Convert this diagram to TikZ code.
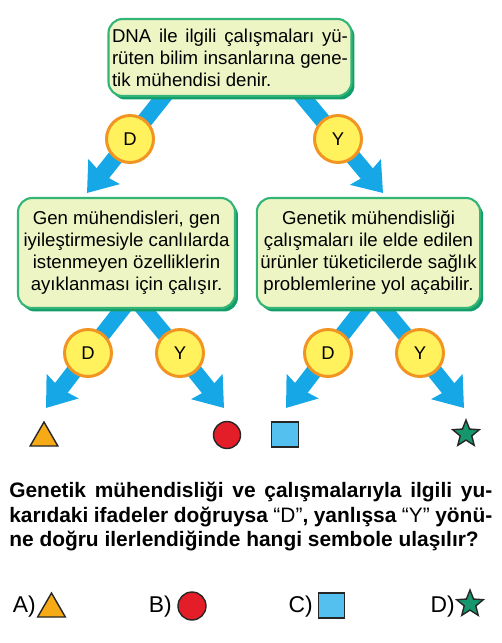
\documentclass[tikz,border=0pt]{standalone}
\usepackage{fontspec}
\setmainfont{Liberation Sans}
\usetikzlibrary{arrows.meta,positioning,calc,shapes.geometric,shadows,backgrounds}
\definecolor{arrblue}{RGB}{22,168,230}
\definecolor{crcfill}{RGB}{255,242,92}
\definecolor{crcdraw}{RGB}{242,148,34}
\definecolor{boxfill}{RGB}{237,245,196}
\definecolor{boxdraw}{RGB}{52,180,118}
\definecolor{boxshd}{RGB}{18,158,108}
\definecolor{triorg}{RGB}{246,170,22}
\definecolor{dotred}{RGB}{228,30,40}
\definecolor{sqblue}{RGB}{84,192,240}
\definecolor{stargrn}{RGB}{22,150,108}
\newcommand{\fullline}[1]{\makebox[9.66cm][s]{#1}}
\tikzset{
  msgblk/.style={draw=boxdraw,line width=1.2pt,fill=boxfill,rounded corners=8pt,inner sep=2pt,
    drop shadow={shadow xshift=0.06cm,shadow yshift=-0.07cm,fill=boxshd,opacity=1},
    font=\fontsize{10.6}{12.5}\selectfont},
  dycirc/.style={circle,draw=crcdraw,line width=1.7pt,fill=crcfill,minimum size=0.94cm,inner sep=0pt,
    font=\fontsize{10.5}{12}\selectfont},
  arr/.style={arrblue,line width=0.32cm,-{Stealth[width=0.78cm,length=0.54cm,inset=0.06cm]}},
  symtri/.style={regular polygon,regular polygon sides=3,draw=black!85,line width=0.8pt,fill=triorg,minimum size=0.64cm,inner sep=0pt},
  symdot/.style={circle,draw=black!85,line width=0.8pt,fill=dotred,minimum size=0.54cm,inner sep=0pt},
  symsq/.style={rectangle,draw=black!85,line width=0.8pt,fill=sqblue,minimum width=0.53cm,minimum height=0.5cm,inner sep=0pt},
  symstar/.style={star,star points=5,star point ratio=2.3,draw=black!85,line width=0.8pt,fill=stargrn,minimum size=0.56cm,inner sep=0pt},
  anslbl/.style={font=\fontsize{13}{15}\selectfont,inner sep=0pt}
}
\begin{document}
\begin{tikzpicture}[x=0.02cm,y=-0.02cm]
  \useasboundingbox (0,0) rectangle (501,643);

  % statement boxes
  \node[msgblk, minimum width=4.8cm, minimum height=1.54cm, text width=4.72cm, align=justify] (q0) at (230,57.5)
    {\hyphenpenalty=10000 DNA ile ilgili çalışmaları yü-\linebreak rüten bilim insanlarına gene-\linebreak tik mühendisi denir.};
  \node[msgblk, minimum width=4.34cm, minimum height=2.2cm, align=center] (q1) at (126.5,253)
    {Gen mühendisleri, gen\\iyileştirmesiyle canlılarda\\istenmeyen özelliklerin\\ayıklanması için çalışır.};
  \node[msgblk, minimum width=4.34cm, minimum height=2.2cm, align=center] (q2) at (368.5,253)
    {Genetik mühendisliği\\çalışmaları ile elde edilen\\ürünler tüketicilerde sağlık\\problemlerine yol açabilir.};

  % D / Y circles
  \node[dycirc] (d0) at (130,139) {D};
  \node[dycirc] (y0) at (338,139) {Y};
  \node[dycirc] (d1) at (88,353) {D};
  \node[dycirc] (y1) at (180,353) {Y};
  \node[dycirc] (d2) at (328,353) {D};
  \node[dycirc] (y2) at (420,353) {Y};

  % end symbols
  \node[symtri] (s1) at (44,438) {};
  \node[symdot] (s2) at (227,435) {};
  \node[symsq] (s3) at (285,434.5) {};
  \node[symstar] (s4) at (466,434) {};

  % arrow ends
  \coordinate (a0) at (173,85);
  \coordinate (b0) at (293,85);
  \coordinate (a1) at (125.5,305);
  \coordinate (b1) at (140.6,305);
  \coordinate (a2) at (365.5,305);
  \coordinate (b2) at (380.6,305);
  \coordinate (ta0) at (87,193);
  \coordinate (tb0) at (383,193);
  \coordinate (ta1) at (46,408);
  \coordinate (tb1) at (224,408);
  \coordinate (ta2) at (286,408);
  \coordinate (tb2) at (464,408);

  \begin{scope}[on background layer]
    \draw[arr] (a0) -- (d0.center) -- (ta0);
    \draw[arr] (b0) -- (y0.center) -- (tb0);
    \draw[arr] (a1) -- (d1.center) -- (ta1);
    \draw[arr] (b1) -- (y1.center) -- (tb1);
    \draw[arr] (a2) -- (d2.center) -- (ta2);
    \draw[arr] (b2) -- (y2.center) -- (tb2);
  \end{scope}

  % question
  \node[anchor=north west, inner sep=0pt, align=left,
    font=\bfseries\fontsize{11.9}{13.9}\selectfont] (qtext) at (9,482)
    {\fullline{Genetik mühendisliği ve çalışmalarıyla ilgili yu-}\\
     \fullline{karıdaki ifadeler doğruysa {\mdseries “D”}, yanlışsa {\mdseries “Y”} yönü-}\\
     ne doğru ilerlendiğinde hangi sembole ulaşılır?};

  % answers
  \node[anslbl, anchor=base east] (oa) at (36,612) {A)};
  \node[symtri] (ma) at (51.5,609) {};
  \node[anslbl, anchor=base east] (ob) at (172,612) {B)};
  \node[symdot, minimum size=0.56cm] (mb) at (192,606) {};
  \node[anslbl, anchor=base east] (oc) at (313,612) {C)};
  \node[symsq] (mc) at (331.5,605.5) {};
  \node[anslbl, anchor=base east] (od) at (455,612) {D)};
  \node[symstar] (md) at (470,604) {};
\end{tikzpicture}
\end{document}
